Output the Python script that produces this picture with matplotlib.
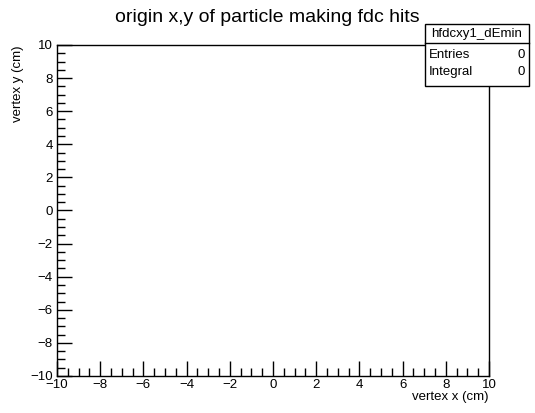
import matplotlib
matplotlib.use("Agg")
import matplotlib.pyplot as plt
from matplotlib.ticker import MultipleLocator, FuncFormatter
from matplotlib.patches import Rectangle

# Data (empty histogram)
hist_name = "hfdcxy1_dEmin"
title = "origin x,y of particle making fdc hits"
x_label = "vertex x (cm)"
y_label = "vertex y (cm)"
x_range = [-10, 10]
y_range = [-10, 10]
stat_names = ["Entries", "Integral"]
stat_values = ["0", "0"]

plt.rcParams['font.family'] = ['Liberation Sans', 'DejaVu Sans']

W, H = 535, 413
fig = plt.figure(figsize=(W / 100, H / 100), dpi=100)
L, R, T, B = 57, 489, 45, 376
ax = fig.add_axes([L / W, 1 - B / H, (R - L) / W, (B - T) / H])
ax.set_xlim(*x_range)
ax.set_ylim(*y_range)

for s in ax.spines.values():
    s.set_linewidth(1.0)
    s.set_color('black')

ax.xaxis.set_major_locator(MultipleLocator(2))
ax.xaxis.set_minor_locator(MultipleLocator(0.5))
ax.yaxis.set_major_locator(MultipleLocator(2))
ax.yaxis.set_minor_locator(MultipleLocator(0.5))
fmt = FuncFormatter(lambda v, p: ("\u2212%d" % abs(v)) if v < 0 else "%d" % v)
ax.xaxis.set_major_formatter(fmt)
ax.yaxis.set_major_formatter(fmt)
ax.tick_params(which='major', direction='in', length=11, width=1, labelsize=9.5,
               top=False, right=False, pad=3)
ax.tick_params(which='minor', direction='in', length=5.5, width=1,
               top=False, right=False)
ax.tick_params(axis='x', which='major', pad=2)

fig.text(R / W, 1 - 397 / H, x_label, ha='right', va='center', fontsize=9.5)
fig.text(18 / W, 1 - T / H, y_label, ha='center', va='top', rotation=90, fontsize=9.5)
fig.text(267 / W, 1 - 18 / H, title, ha='center', va='center', fontsize=14)

# Stat box
bx0, bx1, by0, by1, byt = 425, 529, 24, 86, 43
box = Rectangle((bx0 / W, 1 - by1 / H), (bx1 - bx0) / W, (by1 - by0) / H,
                transform=fig.transFigure, facecolor='white', edgecolor='black',
                linewidth=1, zorder=5)
fig.add_artist(box)
fig.add_artist(plt.Line2D([bx0 / W, bx1 / W], [1 - byt / H, 1 - byt / H],
                          transform=fig.transFigure, color='black', lw=1, zorder=6))
fig.text((bx0 + bx1) / 2 / W, 1 - (by0 + byt) / 2 / H, hist_name,
         ha='center', va='center', fontsize=9.5, zorder=7)
rows_y = [55, 72]
for nm, val, yy in zip(stat_names, stat_values, rows_y):
    fig.text((bx0 + 4) / W, 1 - yy / H, nm, ha='left', va='center', fontsize=9.5, zorder=7)
    fig.text((bx1 - 4) / W, 1 - yy / H, val, ha='right', va='center', fontsize=9.5, zorder=7)

fig.savefig("out.png", dpi=100, facecolor='white')
